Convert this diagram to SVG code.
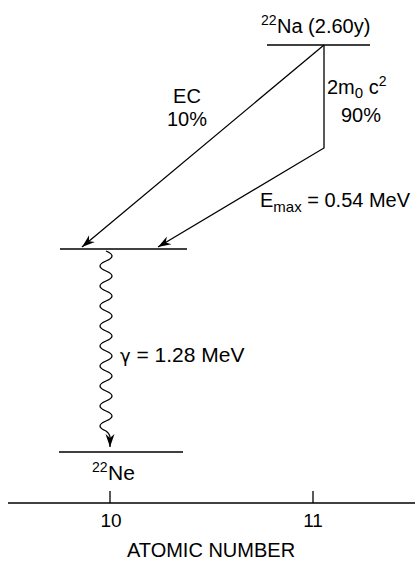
<svg xmlns="http://www.w3.org/2000/svg" width="415" height="562" viewBox="0 0 415 562">
<defs>
<style>
text{font-family:"Liberation Sans",Arial,sans-serif;font-size:20px;fill:#000}
.ln{stroke:#000;stroke-width:1.3;fill:none}
.sup{font-size:14px}
.sub{font-size:15px}
.gr{font-family:"DejaVu Sans","Noto Sans",sans-serif;font-size:18px}
</style>
<marker id="ah" viewBox="-14 -5 15 10" markerWidth="15" markerHeight="10" refX="0" refY="0" orient="auto" markerUnits="userSpaceOnUse">
<path d="M0,0 L-13,-4.5 L-9,0 L-13,4.5 Z" fill="#000"/>
</marker>
</defs>
<rect width="415" height="562" fill="#fff"/>
<g id="na22">
<line class="ln" x1="267" y1="45" x2="370" y2="45"/>
<text x="261" y="25" class="sup">22</text>
<text x="277" y="33">Na (2.60y)</text>
</g>
<g id="ne22-excited">
<line class="ln" x1="60" y1="249" x2="187" y2="249"/>
</g>
<g id="ne22">
<line class="ln" x1="59" y1="452" x2="183" y2="452"/>
<text x="92" y="472" class="sup">22</text>
<text x="108" y="480" style="font-size:21px">Ne</text>
</g>
<g id="connectors">
<line class="ln" x1="324" y1="45" x2="82" y2="247" marker-end="url(#ah)"/>
<polyline class="ln" points="324,45 324,148 158,247" marker-end="url(#ah)"/>
<path class="ln" d="M106,251 q12,5 0,10 t0,10 t0,10 t0,10 t0,10 t0,10 t0,10 t0,10 t0,10 t0,10 t0,10 t0,10 t0,10 t0,10 t0,10 t0,10 t0,10 t0,10 q5,4 4,9 L110,447" marker-end="url(#ah)"/>
</g>
<g id="labels">
<text x="187" y="103" text-anchor="middle">EC</text>
<text x="187" y="126" text-anchor="middle">10%</text>
<text x="327" y="94">2m<tspan class="sub" dy="4">0</tspan><tspan dy="-4"> c</tspan><tspan class="sup" dy="-8">2</tspan></text>
<text x="361" y="122" text-anchor="middle">90%</text>
<text x="260" y="207">E<tspan class="sub" dy="5">max</tspan><tspan dy="-5"> = 0.54 MeV</tspan></text>
<text x="120" y="362" style="font-size:21px"><tspan class="gr">γ</tspan> = 1.28 MeV</text>
</g>
<g id="axis">
<line class="ln" x1="8" y1="503" x2="415" y2="503"/>
<line class="ln" x1="110" y1="491" x2="110" y2="503"/>
<line class="ln" x1="313" y1="491" x2="313" y2="503"/>
<text x="111" y="527" text-anchor="middle" style="font-size:19px">10</text>
<text x="313" y="527" text-anchor="middle" style="font-size:19px">11</text>
<text x="211" y="557" text-anchor="middle">ATOMIC NUMBER</text>
</g>
</svg>
